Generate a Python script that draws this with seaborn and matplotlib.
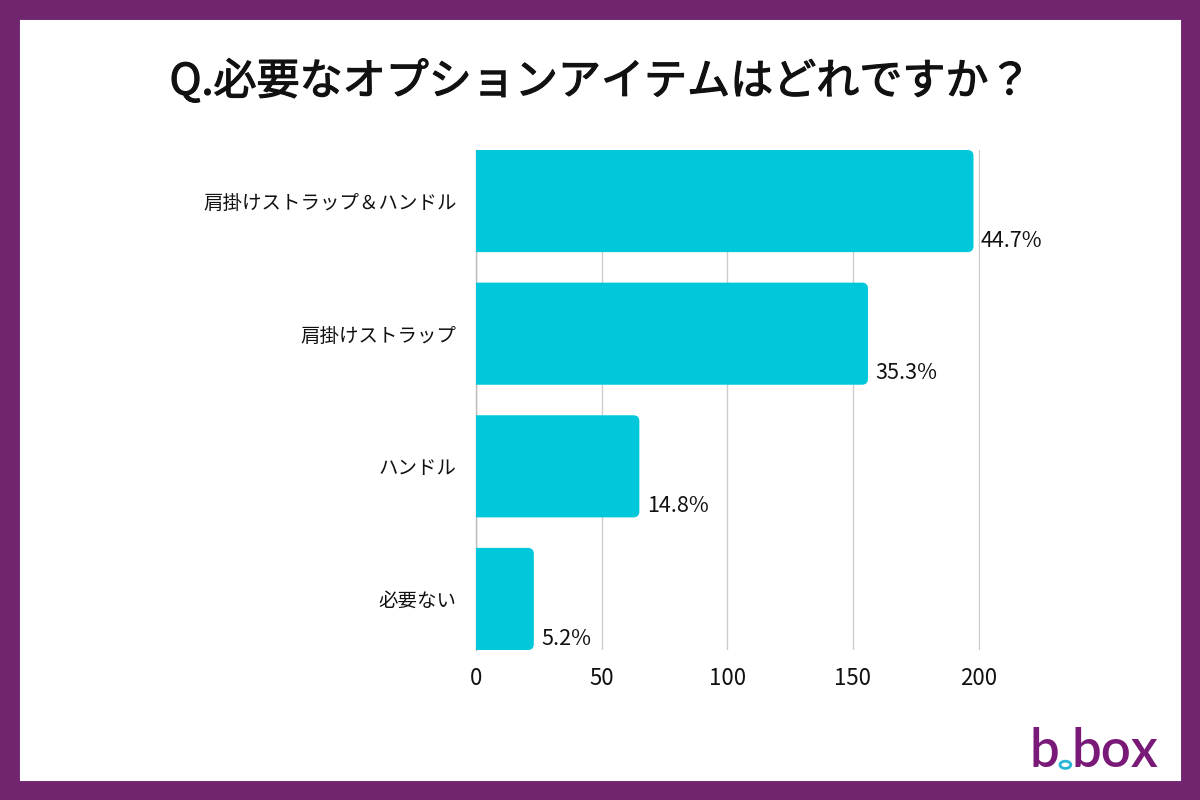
import matplotlib
matplotlib.use("Agg")
import matplotlib.pyplot as plt
import matplotlib.patheffects as pe
import seaborn as sns
import pandas as pd
from matplotlib.patches import FancyBboxPatch, Rectangle, Circle

# data
options = ['肩掛けストラップ＆ハンドル', '肩掛けストラップ', 'ハンドル', '必要ない']
counts = [198, 156, 65, 23]
pct_labels = ['44.7%', '35.3%', '14.8%', '5.2%']
x_ticks = [0, 50, 100, 150, 200]

PURPLE = '#70256e'
BAR = '#00c8da'

sns.set_theme(style='white')
plt.rcParams['font.family'] = ['Noto Sans CJK JP', 'DejaVu Sans']

df = pd.DataFrame({'option': options, 'count': counts})

fig = plt.figure(figsize=(12, 8), dpi=100)
fig.patch.set_facecolor('white')

# purple frame
fig.patches.append(Rectangle((0, 0), 1, 1, transform=fig.transFigure,
                             facecolor='none', edgecolor=PURPLE, linewidth=28, zorder=10))

ax = fig.add_axes([0.3967, 0.1875, 0.4200, 0.625])
sns.barplot(data=df, x='count', y='option', color=BAR, width=0.77, ax=ax, saturation=1)

ax.set_xlim(0, 200.6)
ax.set_ylim(3.385, -0.385)

# swap bars for right-rounded versions
px_x = 504 / 200.6
px_y = 500 / 3.77
r = 6 / px_x
for p in list(ax.patches):
    x0, y0 = p.get_x(), p.get_y()
    w, h = p.get_width(), p.get_height()
    rb = FancyBboxPatch((x0 - 2 * r, y0), w + 2 * r, h,
                        boxstyle=f'round,pad=0,rounding_size={r}',
                        mutation_aspect=px_x / px_y,
                        facecolor=BAR, edgecolor='none', zorder=3)
    ax.add_patch(rb)
    p.remove()

for i, (c, lab) in enumerate(zip(counts, pct_labels)):
    ax.text(c + 3, i + 0.3, lab, fontsize=15.5, color='#111111', ha='left', va='center',
            zorder=4)

ax.set_xticks(x_ticks)
ax.xaxis.grid(True, color='#cccccc', linewidth=1)
ax.set_axisbelow(True)
for s in ['top', 'right', 'bottom']:
    ax.spines[s].set_visible(False)
ax.spines['left'].set_color('#bbbbbb')
ax.spines['left'].set_linewidth(1)
ax.tick_params(axis='x', labelsize=16, colors='#111111', length=0, pad=12)
ax.tick_params(axis='y', labelsize=14, colors='#111111', length=0, pad=14)
ax.set_xlabel('')
ax.set_ylabel('')

fig.text(0.5, 0.897, 'Q.必要なオプションアイテムはどれですか？', ha='center', va='center',
         fontsize=31, color='#111111', fontweight='normal',
         path_effects=[pe.withStroke(linewidth=0.9, foreground='#111111')])

# logo
fig.text(0.858, 0.041, 'b', fontsize=38, color='#7a1a78', ha='left', va='baseline',
         family=['Lato'], fontweight='semibold')
fig.text(0.893, 0.041, 'box', fontsize=38, color='#7a1a78', ha='left', va='baseline',
         family=['Lato'], fontweight='semibold')
fig.patches.append(Circle((0.8878, 0.044), 0.0045, transform=fig.transFigure,
                          facecolor='white', edgecolor='#29b6d6', linewidth=2))

fig.savefig('out.png', dpi=100)
